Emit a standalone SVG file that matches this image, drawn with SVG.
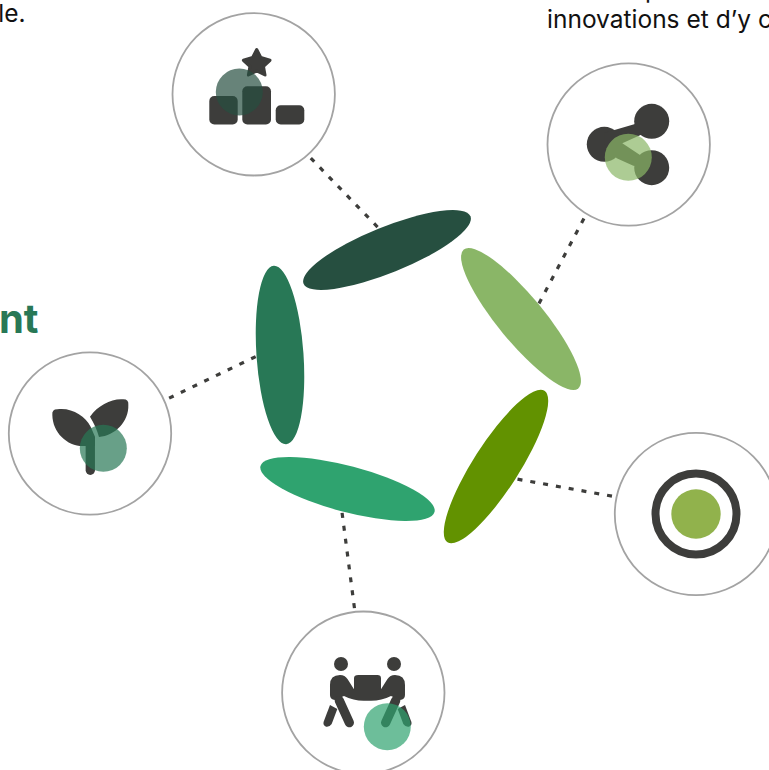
<svg xmlns="http://www.w3.org/2000/svg" width="769" height="770" viewBox="0 0 769 770">
<style>
.ring{fill:#fff;stroke:#a3a3a3;stroke-width:1.8}
.ink{fill:#3d3d3b}
.inkl{fill:none;stroke:#3d3d3b;stroke-linecap:round;stroke-linejoin:round}
.link{fill:none;stroke:#3d3d3b;stroke-width:3.2;stroke-dasharray:5 8}
.txt{font-family:Inter,"Liberation Sans",sans-serif;font-size:24.500px;fill:#111}
.head{font-family:Inter,"Liberation Sans",sans-serif;font-size:40px;font-weight:700;fill:#287856}
</style>
<rect width="769" height="770" fill="#fff"/>
<g id="labels">
<text class="txt" x="25.500" y="21.500" text-anchor="end">le.</text>
<text class="txt" x="645" y="-2">p</text>
<text class="txt" x="547" y="27.500">innovations et d’y c</text>
<text class="head" x="38.500" y="333" text-anchor="end">nt</text>
</g>
<g id="connectors">
<path class="link" d="M386.600 236.400L302 149"/>
<path class="link" d="M590 207.100L535 311"/>
<path class="link" d="M267.400 351L160 402.500"/>
<path class="link" d="M504.700 476.900L625 498.500"/>
<path class="link" d="M340.400 500L356 620"/>
</g>
<g id="petals">
<ellipse id="petal-1" cx="387" cy="250" rx="90" ry="23" transform="rotate(-22 387 250)" fill="#264f40"/>
<ellipse id="petal-2" cx="521" cy="319" rx="90" ry="23" transform="rotate(50.500 521 319)" fill="#8ab667"/>
<ellipse id="petal-3" cx="496" cy="466.500" rx="90" ry="23" transform="rotate(-57.400 496 466.500)" fill="#629200"/>
<ellipse id="petal-4" cx="347.500" cy="489" rx="90" ry="23" transform="rotate(14.800 347.500 489)" fill="#2fa36f"/>
<ellipse id="petal-5" cx="280" cy="355" rx="89.500" ry="23.500" transform="rotate(86 280 355)" fill="#287856"/>
</g>
<g id="node-podium">
<circle class="ring" cx="253.700" cy="94.300" r="81.200"/>
<rect class="ink" x="209.300" y="96" width="28.400" height="28.400" rx="5"/>
<rect class="ink" x="242.300" y="86.300" width="28.700" height="38.100" rx="5"/>
<rect class="ink" x="275.700" y="105.300" width="28.600" height="19.100" rx="5"/>
<path class="ink" stroke="#3d3d3b" stroke-width="3" stroke-linejoin="round" d="M256.700 49.500L260.800 57.500L270 60.300L263.500 66.500L265 75L256.700 71L248.400 75L249.900 66.500L243.400 60.300L252.600 57.500Z"/>
<circle cx="239.300" cy="92" r="23.500" fill="#264f40" fill-opacity=".7"/>
</g>
<g id="node-share">
<circle class="ring" cx="628.700" cy="144.500" r="81.200"/>
<circle class="ink" cx="651.700" cy="121.300" r="17.500"/>
<circle class="ink" cx="604.300" cy="144.300" r="17.500"/>
<circle class="ink" cx="651.700" cy="167.700" r="17.500"/>
<path class="ink" d="M604.300 133L635 124L645 133L622.300 143.300L640 155L651.700 167.700L633.300 165.700L616.700 158.300L604.300 144.300Z"/>
<circle cx="628.300" cy="157.300" r="23.500" fill="#8ab667" fill-opacity=".7"/>
</g>
<g id="node-sprout">
<circle class="ring" cx="90" cy="433.500" r="81.200"/>
<path class="ink" transform="translate(0 290) scale(.3333)" d="M157 375Q155 358 172 358C215 352 255 378 272 410L285 440V468H255C205 472 158 430 157 375Z"/>
<path class="ink" transform="translate(0 290) scale(.3333)" d="M385 345Q387 328 370 328C335 325 295 345 270 380C282 400 292 420 297 441C345 437 387 395 385 345Z"/>
<path class="inkl" stroke-width="9.300" d="M90.300 440V470.300"/>
<circle cx="103.300" cy="448.300" r="23.500" fill="#287856" fill-opacity=".7"/>
</g>
<g id="node-team">
<circle class="ring" cx="363.300" cy="692.700" r="81.200"/>
<circle class="ink" cx="341" cy="664" r="7"/>
<circle class="ink" cx="394" cy="664" r="7"/>
<g transform="translate(280 610) scale(.3333)">
<path class="ink" d="M150 225Q150 195 180 195Q195 195 203 208L222 238V205Q222 195 235 195H292Q303 195 303 205V238L322 208Q330 195 345 195Q375 195 375 225V255Q375 268 360 270L333 258Q300 275 262 272Q225 275 192 258L165 270Q150 268 150 255Z"/>
<path class="inkl" stroke-width="28" d="M178 272L208 338"/>
<path class="inkl" stroke-width="28" d="M347 272L317 338"/>
<path class="ink" d="M150 285L172 297L155 342Q148 352 138 350Q128 345 131 335Z"/>
<path class="ink" d="M375 285L353 297L370 342Q377 352 387 350Q397 345 394 335Z"/>
</g>
<circle cx="387.300" cy="726.700" r="23.500" fill="#2fa36f" fill-opacity=".7"/>
</g>
<g id="node-target">
<circle class="ring" cx="696" cy="514" r="81.200"/>
<circle cx="696" cy="514" r="40.500" fill="none" stroke="#3d3d3b" stroke-width="8"/>
<circle cx="696" cy="514" r="24.700" fill="#629200" fill-opacity=".7"/>
</g>
</svg>
